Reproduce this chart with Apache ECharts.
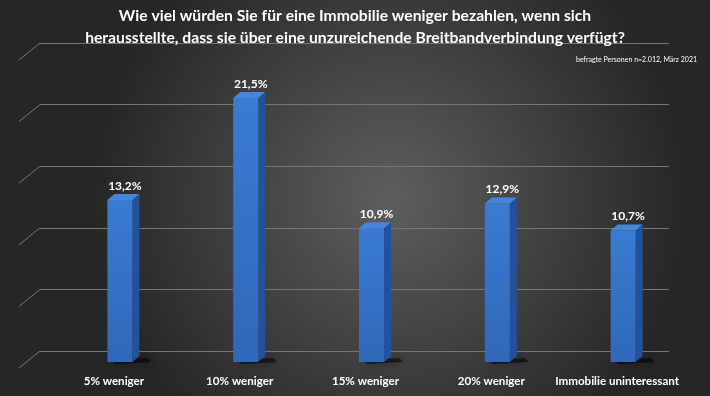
<!DOCTYPE html>
<html><head><meta charset="utf-8">
<script src="https://cdn.jsdelivr.net/npm/echarts@6/dist/echarts.min.js"></script>
<style>html,body{margin:0;padding:0;background:#333}#c{width:710px;height:396px}</style>
</head><body><div id="c"></div>
<script>
const categories = ['5% weniger', '10% weniger', '15% weniger', '20% weniger', 'Immobilie uninteressant'];
const values = [13.2, 21.5, 10.9, 12.9, 10.7];
const gridTicks = [0, 5, 10, 15, 20, 25];
const titleLines = ['Wie viel würden Sie für eine Immobilie weniger bezahlen, wenn sich',
  'herausstellte, dass sie über eine unzureichende Breitbandverbindung verfügt?'];
const sourceNote = 'befragte Personen n=2.012, März 2021';

const FONT = 'Lato, "Open Sans", sans-serif';
const chart = echarts.init(document.getElementById('c'), null, {renderer: 'canvas'});
const fmt = v => v.toFixed(1).replace('.', ',') + '%';

chart.setOption({
  animation: false,
  backgroundColor: {
    type: 'radial', x: 0.55, y: 0.5, r: 0.75,
    colorStops: [{offset: 0, color: '#5e5e5e'}, {offset: 1, color: '#262626'}]
  },
  title: [
    {text: titleLines.join('\n'), left: 'center', top: 0,
     textStyle: {color: '#fff', fontFamily: FONT, fontWeight: 'bold', fontSize: 15.7, lineHeight: 22}},
    {text: sourceNote, right: 8, top: 51,
     textStyle: {color: '#fff', fontFamily: FONT, fontWeight: 'normal', fontSize: 7}}
  ],
  grid: [
    {left: 57, right: 24, top: 55, bottom: 34},
    {left: 40, right: 41, top: 43, bottom: 45}
  ],
  xAxis: [
    {type: 'category', gridIndex: 0, data: categories,
     axisLine: {show: false}, axisTick: {show: false},
     axisLabel: {interval: 0, color: '#fff', fontFamily: FONT, fontWeight: 'bold', fontSize: 11.6, margin: 13, padding: [0, 12, 0, 0]}},
    {type: 'value', gridIndex: 1, min: 0, max: 1, show: false}
  ],
  yAxis: [
    {type: 'value', gridIndex: 0, min: 0, max: 25, show: false, splitLine: {show: false}},
    {type: 'value', gridIndex: 1, min: 0, max: 25, interval: 5,
     axisLine: {show: false}, axisTick: {show: false}, axisLabel: {show: false},
     splitLine: {show: true, lineStyle: {color: '#767676', width: 1}}}
  ],
  series: [
    {type: 'custom', xAxisIndex: 1, yAxisIndex: 1, z: 1,
     data: gridTicks.map(t => [0, t]),
     renderItem: (params, api) => {
       const p = api.coord([0, api.value(1)]);
       return {type: 'line', shape: {x1: p[0], y1: p[1], x2: p[0] - 21, y2: p[1] + 17},
               style: {stroke: '#767676', lineWidth: 1}};
     }},
    {type: 'custom', xAxisIndex: 0, yAxisIndex: 0, z: 5,
     data: values.map((v, i) => [i, v]),
     renderItem: (params, api) => {
       const top = api.coord([api.value(0), api.value(1)]);
       const base = api.coord([api.value(0), 0]);
       const w = 25, dx = 7, dy = -6;
       const x0 = top[0] - w / 2, x1 = top[0] + w / 2;
       return {type: 'group', children: [
         {type: 'polygon', shape: {points: [[x0 + 4, base[1] - 1], [x1 + dx + 8, base[1] - 4], [x1 + dx + 12, base[1]], [x0 + 8, base[1] + 2]]},
          style: {fill: 'rgba(0,0,0,0.55)', shadowBlur: 8, shadowColor: 'rgba(0,0,0,0.8)'}},
         {type: 'polygon', shape: {points: [[x1, top[1]], [x1 + dx, top[1] + dy], [x1 + dx, base[1] + dy], [x1, base[1]]]},
          style: {fill: '#24529a'}},
         {type: 'rect', shape: {x: x0, y: top[1], width: w, height: base[1] - top[1]},
          style: {fill: new echarts.graphic.LinearGradient(0, 0, 0, 1, [
            {offset: 0, color: '#3a7bd3'}, {offset: 1, color: '#2f68b8'}])}},
         {type: 'polygon', shape: {points: [[x0, top[1]], [x0 + dx, top[1] + dy], [x1 + dx, top[1] + dy], [x1, top[1]]]},
          style: {fill: '#4585db'}},
         {type: 'text', style: {text: fmt(api.value(1)), x: top[0] + 5, y: top[1] - 14,
          align: 'center', verticalAlign: 'middle', fill: '#fff',
          font: 'bold 12px ' + FONT}}
       ]};
     }}
  ]
});
</script></body></html>
